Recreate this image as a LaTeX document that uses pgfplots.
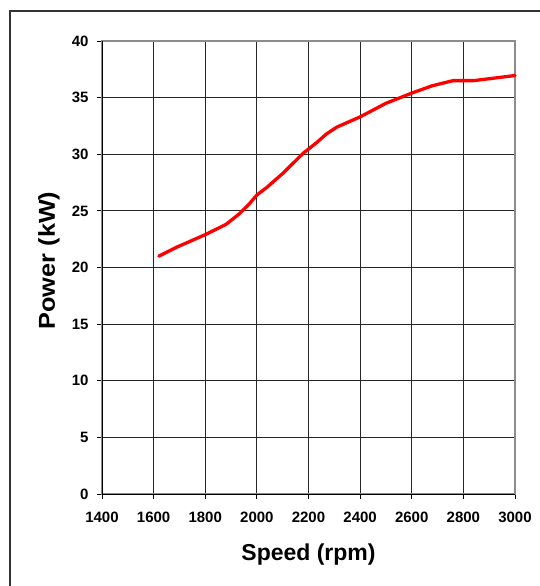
\documentclass[border=0pt]{standalone}
\usepackage{fontspec}
\setmainfont{Liberation Sans}
\newfontfamily\ylabfont{Liberation Sans}[FakeStretch=1.1]
\usepackage{pgfplots}
\pgfplotsset{compat=1.18}
\begin{document}
\begin{tikzpicture}[x=1pt,y=1pt]
\useasboundingbox (0,0) rectangle (540,586);
\draw[black!80, line width=1.2pt] (10,0) -- (10,575) -- (545,575);
\begin{axis}[
  at={(102pt,92pt)}, anchor=south west,
  scale only axis, width=413pt, height=453pt,
  xmin=1400, xmax=3000, ymin=0, ymax=40,
  xtick={1400,1600,...,3000}, ytick={0,5,...,40},
  xtick pos=bottom, ytick pos=left,
  tick align=outside, major tick length=5pt,
  tick style={black, line width=0.8pt},
  grid=major,
  major grid style={black!85, line width=0.8pt},
  axis line style={black!45, line width=1.4pt},
  /pgf/number format/assume math mode=true,
  /pgf/number format/1000 sep={},
  tick label style={font=\fontsize{15}{17}\selectfont\bfseries},
  xticklabel style={yshift=-9pt},
  yticklabel style={xshift=-5pt},
  xlabel={Speed (rpm)}, ylabel={Power (kW)},
  xlabel style={font=\fontsize{23}{26}\selectfont\bfseries, at={(axis description cs:0.5,-0.1457)}, anchor=base},
  ylabel style={font=\fontsize{23}{26}\selectfont\bfseries\ylabfont, at={(axis description cs:-0.1138,0.5155)}, anchor=base},
  clip=false,
]
\draw[black, line width=0.9pt] (rel axis cs:0,1) -- (rel axis cs:0,0) -- (rel axis cs:1,0);
\addplot[red, line width=3.3pt, line join=round, line cap=round] coordinates {
(1620,21.0) (1690,21.8) (1750,22.4) (1800,22.9) (1880,23.8) (1930,24.7)
(1970,25.6) (2000,26.4) (2040,27.1) (2100,28.3) (2180,30.1) (2230,31.0)
(2270,31.8) (2310,32.4) (2400,33.3) (2500,34.5) (2600,35.4) (2680,36.05)
(2760,36.5) (2840,36.5) (3000,36.95)
};
\end{axis}
\end{tikzpicture}
\end{document}
